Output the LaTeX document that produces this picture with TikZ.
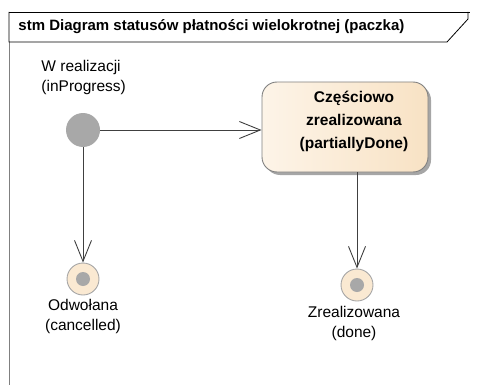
\documentclass[tikz,border=0pt]{standalone}
\usepackage{fontspec}
\setmainfont{Liberation Sans}
\usetikzlibrary{arrows.meta,shadows}

\definecolor{linegray}{HTML}{404040}
\definecolor{framegray}{HTML}{808080}
\definecolor{peachA}{HTML}{FDF4E8}
\definecolor{peachB}{HTML}{F8E2C4}
\definecolor{dotgray}{HTML}{A8A8A8}

\tikzset{
  statebox/.style={draw=framegray, rounded corners=15pt, left color=peachA, right color=peachB,
    minimum width=166pt, minimum height=90pt, inner sep=0pt,
    drop shadow={shadow xshift=3pt, shadow yshift=-3pt, fill=black!35, opacity=1}},
  initstate/.style={circle, fill=dotgray, minimum size=34pt, inner sep=0pt},
  finalstate/.style={circle, draw=framegray!70, fill=peachA!40!peachB, minimum size=32pt, inner sep=0pt,
    path picture={\fill[dotgray] (path picture bounding box.center) circle (7pt);}},
  lbl/.style={font=\fontsize{15.5}{20}\selectfont, inner sep=0pt},
  boxtext/.style={font=\fontsize{15.5}{23}\selectfont\bfseries, align=center, inner sep=0pt},
}

\begin{document}
\begin{tikzpicture}[x=1pt,y=-1pt,>={Straight Barb[length=21pt,width=17pt]}, line width=0.9pt]
	\useasboundingbox (0,0) rectangle (478,385);
	% frame
	\draw[framegray] (9,42) -- (9,385);
	\draw[black, line width=0.8pt] (9,12) -- (470,12);
	\draw[black, line width=0.8pt] (468,12) -- (468,19) -- (447,42) -- (9,42) -- (9,12);
	\node[anchor=west, font=\fontsize{15}{18}\selectfont\bfseries, inner sep=0pt] (title) at (18,27) {stm Diagram statusów płatności wielokrotnej (paczka)};
	% states
	\node[initstate] (inProgress) at (83,130) {};
	\node[lbl, anchor=west, align=left] (inProgressLbl) at (41,77) {W realizacji\\(inProgress)};
	\node[statebox] (partiallyDone) at (345,127) {};
	\node[boxtext] (partiallyDoneTxt) at (354,121) {Częściowo\\zrealizowana\\(partiallyDone)};
	\node[finalstate] (cancelled) at (83,279) {};
	\node[lbl, align=center] (cancelledLbl) at (83,316) {Odwołana\\(cancelled)};
	\node[finalstate] (done) at (357,285) {};
	\node[lbl, align=center] (doneLbl) at (354,323) {Zrealizowana\\(done)};
	% transitions
	\draw[linegray, ->] (inProgress) -- (inProgress -| partiallyDone.west);
	\draw[linegray, ->] (inProgress) -- (cancelled);
	\draw[linegray, ->] (partiallyDone.south -| done) -- (done);
\end{tikzpicture}
\end{document}
